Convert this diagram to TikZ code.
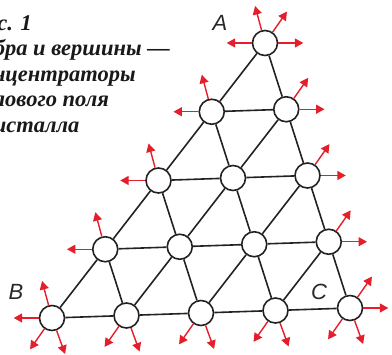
\documentclass[tikz,border=0pt]{standalone}
\usepackage{fontspec}
\setmainfont{Liberation Serif}
\newfontfamily\labfont{Liberation Sans}
\usetikzlibrary{arrows.meta}
\definecolor{arrred}{RGB}{228,30,42}
\definecolor{edgegray}{RGB}{34,34,34}
\definecolor{labgray}{RGB}{40,40,40}
\tikzset{
  vtx/.style={circle,draw=edgegray,line width=1.6pt,fill=white,minimum size=25pt,inner sep=0pt},
  edge/.style={draw=edgegray,line width=1.6pt},
  outarrow/.style={draw=arrred,line width=1.4pt,-{Triangle[length=8.5pt,width=9pt]},arrred},
  corner/.style={font=\labfont\itshape\fontsize{22}{22}\selectfont,text=labgray,inner sep=0pt},
  caption/.style={font=\bfseries\itshape\fontsize{22.5}{25.5}\selectfont,text=black!90,align=left,inner sep=0pt}
}
\begin{document}
\begin{tikzpicture}[x=1pt,y=1pt]
\useasboundingbox (0,0) rectangle (392,355);
% caption
\node[caption,anchor=north west] (cap) at (-29,340) {Рис. 1\\Ребра и вершины —\\концентраторы\\силового поля\\кристалла};
% lattice nodes
\foreach \r in {0,...,4}{
  \foreach \j in {0,...,\r}{
    \pgfmathtruncatemacro\i{\r-\j}
    \node[vtx] (n\i\j) at ({265-53.25*\i+21.25*\j},{312-68.75*\i-66.25*\j}) {};
  }
}
% edges
\foreach \r in {0,...,3}{
  \foreach \j in {0,...,\r}{
    \pgfmathtruncatemacro\i{\r-\j}
    \pgfmathtruncatemacro\ii{\i+1}
    \pgfmathtruncatemacro\jj{\j+1}
    \draw[edge] (n\i\j) -- (n\ii\j);
    \draw[edge] (n\i\j) -- (n\i\jj);
    \draw[edge] (n\ii\j) -- (n\i\jj);
  }
}
% outward arrows
\foreach \n/\a in {00/180,00/105,00/55,00/0,
  10/105,10/180,20/105,20/180,30/105,30/180,
  01/55,01/0,02/55,02/0,03/55,03/0,
  40/105,40/180,40/235,40/290,
  31/235,31/290,22/235,22/290,13/235,13/290,
  04/55,04/0,04/235,04/290}{
  \draw[outarrow] (n\n.\a) -- ++(\a:25);
}
% corner labels
\node[corner] (la) at (220,332) {A};
\node[corner] (lb) at (16,63) {B};
\node[corner] (lc) at (319,63) {C};
\end{tikzpicture}
\end{document}
